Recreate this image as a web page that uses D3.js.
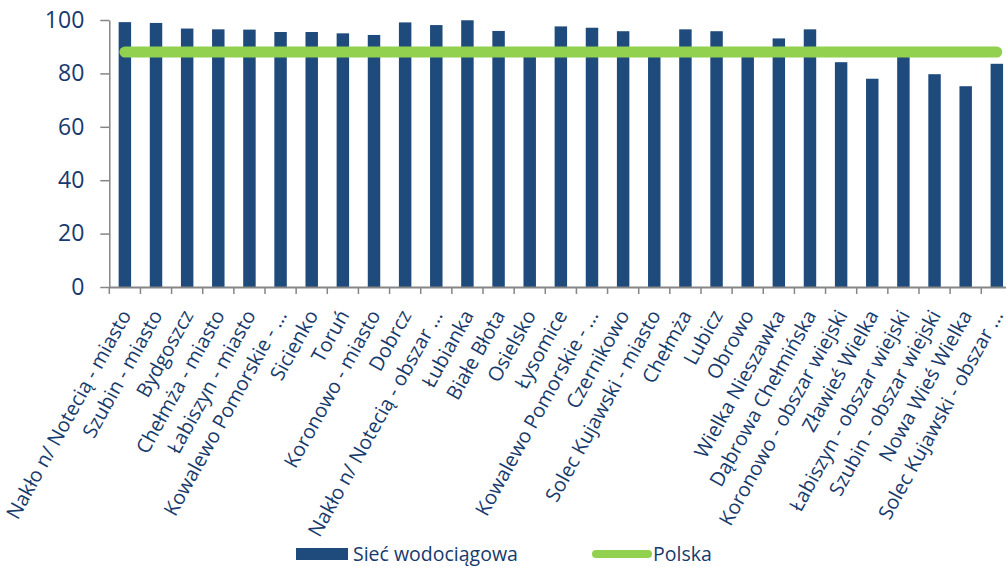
<!DOCTYPE html>
<html>
<head>
<meta charset="utf-8">
<script src="https://cdn.jsdelivr.net/npm/d3@7"></script>
<style>
  html, body { margin: 0; padding: 0; background: #fff; }
  svg { display: block; }
  text { font-family: "Open Sans", "Noto Sans", sans-serif; fill: #173A6C; }
</style>
</head>
<body>
<svg id="chart" width="1006" height="567"></svg>
<script>
const categories = [
  "Nakło n/ Notecią - miasto", "Szubin - miasto", "Bydgoszcz", "Chełmża - miasto",
  "Łabiszyn - miasto", "Kowalewo Pomorskie - ...", "Sicienko", "Toruń",
  "Koronowo - miasto", "Dobrcz", "Nakło n/ Notecią - obszar ...", "Łubianka",
  "Białe Błota", "Osielsko", "Łysomice", "Kowalewo Pomorskie - ...",
  "Czernikowo", "Solec Kujawski - miasto", "Chełmża", "Lubicz", "Obrowo",
  "Wielka Nieszawka", "Dąbrowa Chełmińska", "Koronowo - obszar wiejski",
  "Zławieś Wielka", "Łabiszyn - obszar wiejski", "Szubin - obszar wiejski",
  "Nowa Wieś Wielka", "Solec Kujawski - obszar ..."
];
const siecWodociagowa = [
  99.2, 98.9, 96.8, 96.5, 96.4, 95.5, 95.5, 95.0,
  94.4, 99.1, 98.1, 99.9, 95.9, 87.0, 97.6, 97.1,
  95.8, 87.0, 96.5, 95.8, 87.0, 93.1, 96.5, 84.2,
  78.0, 87.0, 79.7, 75.2, 83.6
];
const polska = 88;
const yTicks = [0, 20, 40, 60, 80, 100];
const seriesNames = ["Sieć wodociągowa", "Polska"];

const svg = d3.select("#chart");
const keys = categories.map((c, i) => i);

const x = d3.scaleBand().domain(keys).range([109.3, 1012.4])
  .paddingInner(0.6).paddingOuter(0.3);
const y = d3.scaleLinear().domain([0, 100]).range([287, 20]);
const step = x.step();

const axisColor = "#868686";
const textColor = "#173A6C";

// Bars
svg.append("g").selectAll("rect").data(siecWodociagowa).join("rect")
  .attr("x", (d, i) => x(i))
  .attr("y", d => y(d))
  .attr("width", x.bandwidth())
  .attr("height", d => y(0) - y(d))
  .attr("fill", "#1F4A7C");

// Y axis
const yAxis = svg.append("g").attr("transform", `translate(${x.range()[0]},0)`)
  .call(d3.axisLeft(y).tickValues(yTicks).tickSize(9).tickSizeOuter(0).tickPadding(16));
yAxis.select(".domain").attr("stroke", axisColor).attr("stroke-width", 1.5);
yAxis.selectAll(".tick line").attr("stroke", axisColor).attr("stroke-width", 1.5);
yAxis.selectAll(".tick text").style("font-size", "23px").attr("fill", textColor)
  .style("font-family", "'Open Sans', sans-serif");

// X axis (labels at band centres, ticks at band boundaries)
const xAxis = svg.append("g").attr("transform", `translate(0,${y(0)})`)
  .call(d3.axisBottom(x).tickSize(0).tickSizeOuter(0).tickFormat(i => categories[i]));
xAxis.select(".domain").attr("stroke", axisColor).attr("stroke-width", 2);
xAxis.selectAll(".tick text")
  .style("font-size", "20px").attr("fill", textColor)
  .style("font-family", "'Open Sans', sans-serif")
  .attr("text-anchor", "end")
  .attr("y", 0).attr("dy", 0)
  .attr("transform", "translate(7,28) rotate(-61)");

const bounds = d3.range(categories.length + 1).map(i => x.range()[0] + i * step);
svg.append("g").selectAll("line").data(bounds).join("line")
  .attr("x1", d => d).attr("x2", d => d)
  .attr("y1", y(0)).attr("y2", y(0) + 7)
  .attr("stroke", axisColor).attr("stroke-width", 1.5);

// Polska line
const line = d3.line().x(d => x(d) + x.bandwidth() / 2).y(() => y(polska));
svg.append("path").datum([0, categories.length - 1])
  .attr("d", line)
  .attr("fill", "none")
  .attr("stroke", "#92D050")
  .attr("stroke-width", 11)
  .attr("stroke-linecap", "round");

// Legend
const leg = svg.append("g");
leg.append("rect").attr("x", 296).attr("y", 548).attr("width", 52).attr("height", 12).attr("fill", "#1F4A7C");
leg.append("text").attr("x", 353).attr("y", 561).text(seriesNames[0]).style("font-size", "19.5px");
leg.append("line").attr("x1", 596).attr("x2", 648).attr("y1", 554).attr("y2", 554)
  .attr("stroke", "#92D050").attr("stroke-width", 8).attr("stroke-linecap", "round");
leg.append("text").attr("x", 653).attr("y", 561).text(seriesNames[1]).style("font-size", "19.5px");
</script>
</body>
</html>
